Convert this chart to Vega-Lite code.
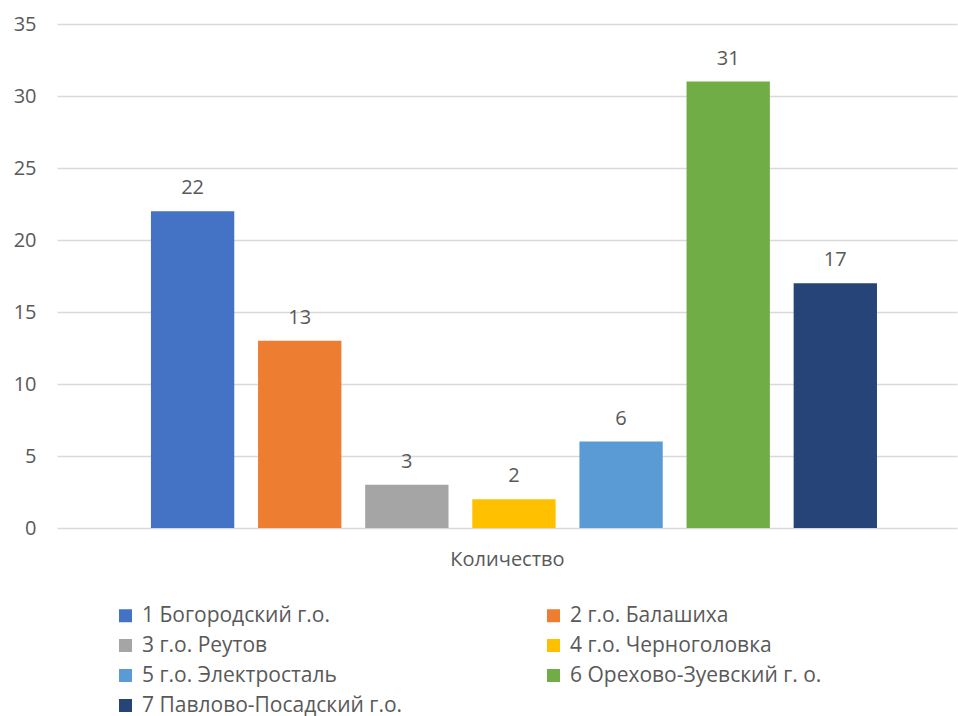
{
  "$schema": "https://vega.github.io/schema/vega-lite/v6.json",
  "width": 900,
  "height": 504,
  "autosize": {"type": "none"},
  "padding": {"left": 57, "top": 24, "right": 1, "bottom": 188},
  "background": "#ffffff",
  "config": {
    "view": {"stroke": null},
    "font": "Open Sans",
    "axis": {"labelFont": "Open Sans", "titleFont": "Open Sans"},
    "legend": {"labelFont": "Open Sans"}
  },
  "data": {
    "values": [
      {"district": "1 Богородский г.о.", "value": 22},
      {"district": "2 г.о. Балашиха", "value": 13},
      {"district": "3 г.о. Реутов", "value": 3},
      {"district": "4 г.о. Черноголовка", "value": 2},
      {"district": "5 г.о. Электросталь", "value": 6},
      {"district": "6 Орехово-Зуевский г. о.", "value": 31},
      {"district": "7 Павлово-Посадский г.о.", "value": 17}
    ]
  },
  "encoding": {
    "x": {
      "field": "district",
      "type": "nominal",
      "sort": null,
      "scale": {"paddingInner": 0.222, "paddingOuter": 0.812, "align": 0.54},
      "axis": {
        "labels": false,
        "ticks": false,
        "domain": false,
        "title": "Количество",
        "titleFontSize": 20,
        "titleFontWeight": "normal",
        "titleColor": "#595959",
        "titlePadding": 21
      }
    },
    "y": {
      "field": "value",
      "type": "quantitative",
      "scale": {"domain": [0, 35], "nice": false},
      "axis": {
        "values": [0, 5, 10, 15, 20, 25, 30, 35],
        "title": null,
        "domain": false,
        "ticks": false,
        "labelPadding": 21,
        "labelFontSize": 20,
        "labelColor": "#595959",
        "gridColor": "#d9d9d9",
        "gridWidth": 1.3
      }
    }
  },
  "layer": [
    {
      "mark": {"type": "bar"},
      "encoding": {
        "color": {
          "field": "district",
          "type": "nominal",
          "sort": null,
          "scale": {"range": ["#4472C4", "#ED7D31", "#A5A5A5", "#FFC000", "#5B9BD5", "#70AD47", "#264478"]},
          "legend": {
            "title": null,
            "orient": "none",
            "legendX": 58,
            "legendY": 581,
            "direction": "horizontal",
            "columns": 2,
            "columnPadding": 140,
            "rowPadding": 8,
            "padding": 0,
            "symbolType": "square",
            "symbolSize": 169,
            "symbolStrokeWidth": 0,
            "labelFontSize": 21,
            "labelColor": "#595959",
            "labelOffset": 6,
            "labelLimit": 400
          }
        }
      }
    },
    {
      "mark": {"type": "text", "baseline": "alphabetic", "dy": -17, "fontSize": 20, "color": "#595959"},
      "encoding": {"text": {"field": "value", "type": "quantitative"}}
    }
  ]
}
